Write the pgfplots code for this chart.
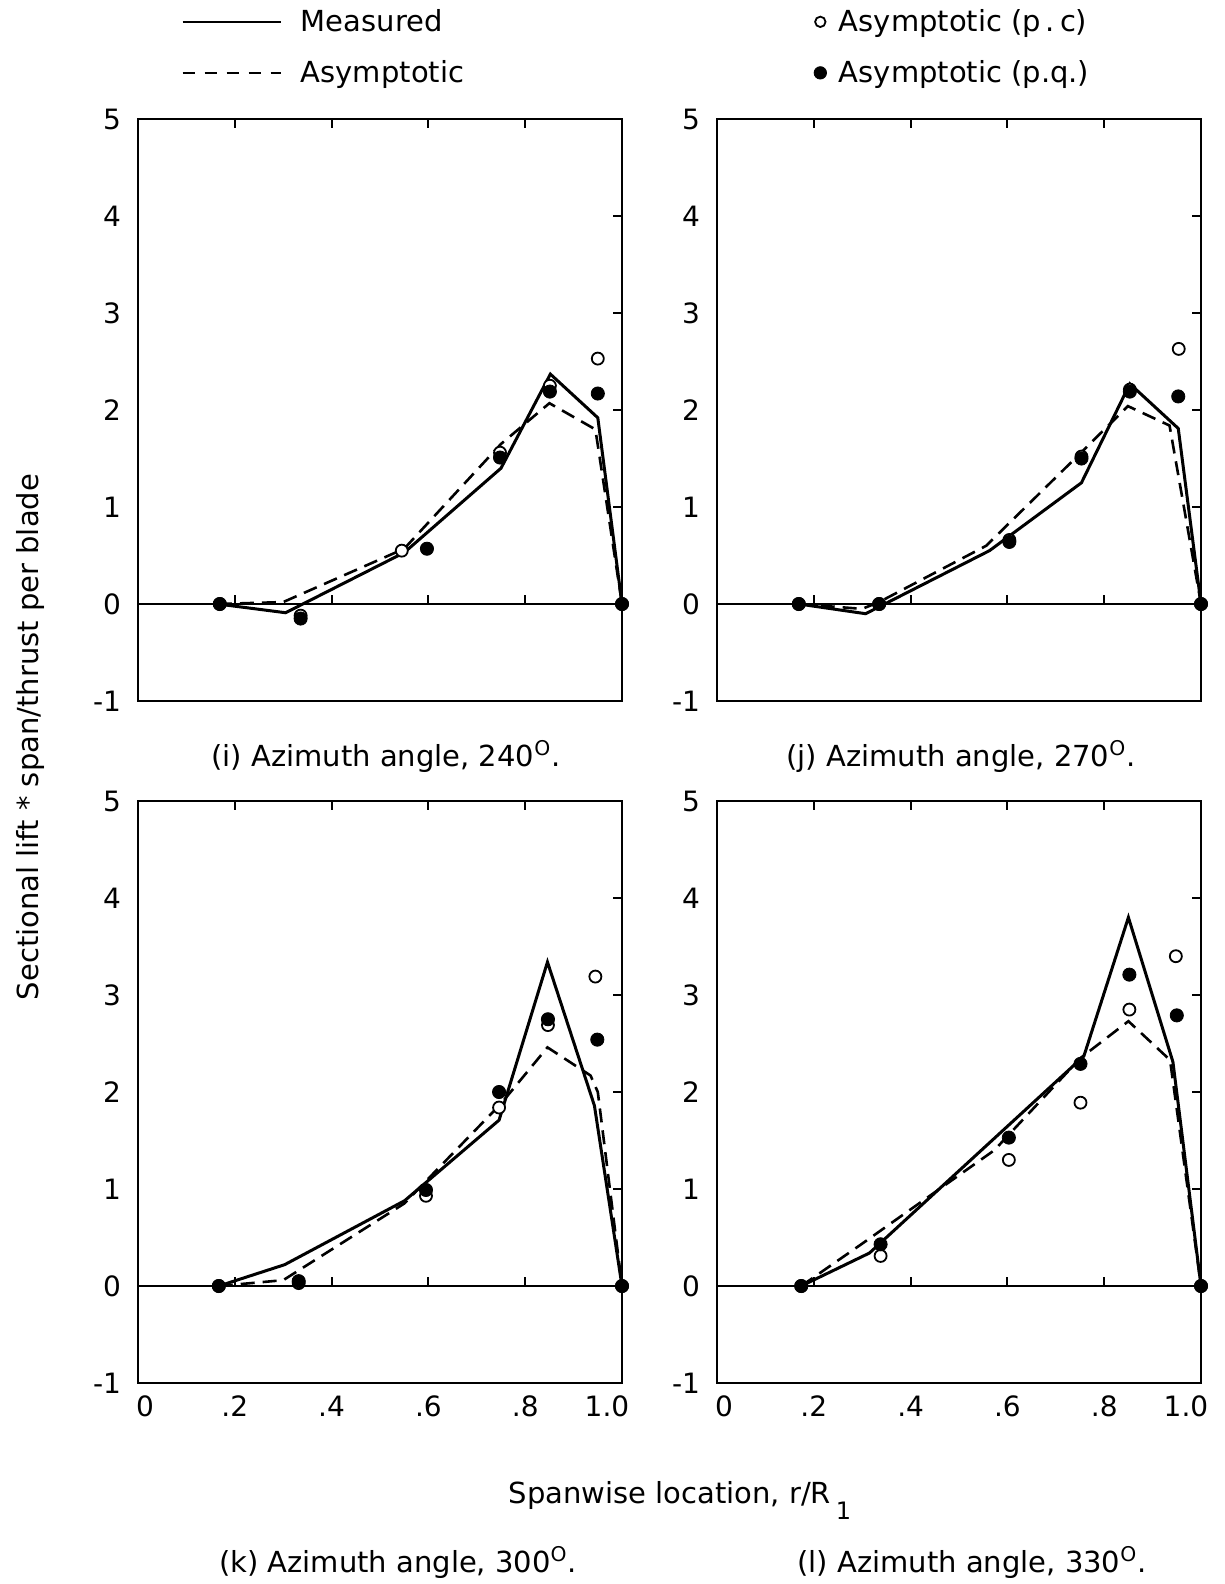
\documentclass[border=0pt]{standalone}
\usepackage{pgfplots}
\pgfplotsset{compat=1.18}
\usepackage{fontspec}
\setmainfont{DejaVu Sans}
\newcommand{\txt}{\fontsize{14.5bp}{17bp}\selectfont}
\newcommand{\tck}{\fontsize{14bp}{16bp}\selectfont}
\pgfplotsset{
  panel/.style={
    scale only axis, width=242bp, height=291bp,
    xmin=0, xmax=1, ymin=-1, ymax=5,
    xtick={0,0.2,0.4,0.6,0.8,1}, ytick={-1,0,1,2,3,4,5},
    xtick pos=right, xticklabel pos=left,
    ytick pos=right, yticklabel pos=left,
    tick align=inside, major tick length=4.5bp,
    axis line style={line width=1bp},
    every tick/.style={black, line width=1bp},
    /pgf/number format/assume math mode=true,
    tick label style={font=\tck},
    yticklabel style={xshift=-5bp},
    xticklabel style={yshift=-3bp},
    clip=false,
  },
  meas/.style={black, line width=1.5bp, no marks, forget plot},
  asym/.style={black, line width=1.3bp, dash pattern=on 7bp off 4bp, no marks, forget plot},
  pc/.style={only marks, mark=*, mark size=3bp, mark options={fill=white, draw=black, line width=0.9bp}, forget plot},
  pq/.style={only marks, mark=*, mark size=3.3bp, mark options={fill=black, draw=black}, forget plot},
}
\newcommand{\zeroline}{%
  \draw[line width=1bp] (axis cs:0,0) -- (axis cs:1,0);
  \pgfplotsinvokeforeach{0.2,0.4,0.6,0.8}{\draw[line width=1bp] (axis cs:##1,0) -- ([yshift=4.5bp]axis cs:##1,0);}
}
\begin{document}
\begin{tikzpicture}[font=\txt]
\path[use as bounding box] (0,0) rectangle (612.5bp,-792bp);

% (i) 240
\begin{axis}[panel, at={(69bp,-59.5bp)}, anchor=north west, xticklabels={,,,,,},
  legend style={at={(0.089,1.196)}, anchor=north west, draw=none, fill=none, inner sep=0pt,
    row sep=9bp, font=\txt, nodes={inner sep=2bp}},
  legend cell align=left]
\addlegendimage{legend image code/.code={\draw[black, line width=1.2bp] (0bp,0bp) -- (49bp,0bp);}}
\addlegendentry{\hspace{7.5bp}Measured}
\addlegendimage{legend image code/.code={\draw[black, line width=1.2bp, dash pattern=on 6bp off 5bp] (0bp,0bp) -- (49bp,0bp);}}
\addlegendentry{\hspace{7.5bp}Asymptotic}
\zeroline
\addplot[meas] coordinates {(0.165,0) (0.305,-0.09) (0.55,0.53) (0.75,1.40) (0.852,2.37) (0.95,1.92) (1.0,0)};
\addplot[asym] coordinates {(0.165,0) (0.30,0.02) (0.55,0.57) (0.75,1.65) (0.85,2.07) (0.945,1.80) (1.0,0)};
\addplot[pc] coordinates {(0.169,0) (0.336,-0.12) (0.545,0.55) (0.748,1.56) (0.851,2.25) (0.950,2.53) (1.0,0)};
\addplot[pq] coordinates {(0.169,0) (0.336,-0.15) (0.597,0.57) (0.748,1.51) (0.851,2.19) (0.950,2.17) (1.0,0)};
\end{axis}

% (j) 270
\begin{axis}[panel, at={(358.5bp,-59.5bp)}, anchor=north west, xticklabels={,,,,,}, yticklabel={},
  legend style={at={(0.199,1.196)}, anchor=north west, draw=none, fill=none, inner sep=0pt,
    row sep=9bp, font=\txt, nodes={inner sep=2bp}},
  legend cell align=left]
\addlegendimage{legend image code/.code={\draw[black, line width=0.9bp, fill=white] (3bp,0bp) circle[radius=2.6bp];}}
\addlegendentry{\hspace{4bp}Asymptotic (p\,.\,c)}
\addlegendimage{legend image code/.code={\fill[black] (3bp,0bp) circle[radius=3.1bp];}}
\addlegendentry{\hspace{4bp}Asymptotic (p.q.)}
\zeroline
\addplot[meas] coordinates {(0.169,0) (0.307,-0.10) (0.563,0.55) (0.753,1.25) (0.853,2.27) (0.953,1.81) (1.0,0)};
\addplot[asym] coordinates {(0.169,0) (0.30,-0.05) (0.335,0.02) (0.556,0.60) (0.75,1.55) (0.849,2.04) (0.935,1.84) (1.0,0)};
\addplot[pc] coordinates {(0.169,0) (0.335,0.0) (0.604,0.66) (0.753,1.52) (0.853,2.21) (0.954,2.63) (1.0,0)};
\addplot[pq] coordinates {(0.169,0) (0.335,0) (0.604,0.64) (0.753,1.50) (0.853,2.19) (0.953,2.14) (1.0,0)};
\end{axis}

% (k) 300
\begin{axis}[panel, at={(69bp,-400.5bp)}, anchor=north west,
  xticklabels={\hspace*{7bp}0,.2,.4,.6,.8,1.0\hspace*{15bp}}]
\zeroline
\addplot[meas] coordinates {(0.167,0) (0.303,0.22) (0.551,0.88) (0.746,1.71) (0.846,3.34) (0.943,1.86) (1.0,0)};
\addplot[asym] coordinates {(0.167,0) (0.30,0.06) (0.55,0.85) (0.75,1.88) (0.846,2.46) (0.935,2.17) (0.95,2.0) (1.0,0)};
\addplot[pc] coordinates {(0.167,0) (0.332,0.03) (0.595,0.93) (0.746,1.84) (0.847,2.69) (0.945,3.19) (1.0,0)};
\addplot[pq] coordinates {(0.167,0) (0.332,0.05) (0.595,0.99) (0.746,2.00) (0.847,2.75) (0.949,2.54) (1.0,0)};
\end{axis}

% (l) 330
\begin{axis}[panel, at={(358.5bp,-400.5bp)}, anchor=north west, yticklabel={},
  xticklabels={\hspace*{7bp}0,.2,.4,.6,.8,1.0\hspace*{15bp}}]
\zeroline
\addplot[meas] coordinates {(0.174,0) (0.315,0.34) (0.40,0.73) (0.758,2.37) (0.850,3.80) (0.942,2.31) (1.0,0)};
\addplot[asym] coordinates {(0.174,0) (0.298,0.43) (0.573,1.40) (0.751,2.35) (0.850,2.73) (0.936,2.33) (1.0,0)};
\addplot[pc] coordinates {(0.174,0) (0.338,0.31) (0.603,1.30) (0.751,1.89) (0.852,2.85) (0.948,3.40) (1.0,0)};
\addplot[pq] coordinates {(0.174,0) (0.338,0.43) (0.603,1.53) (0.751,2.29) (0.852,3.21) (0.950,2.79) (1.0,0)};
\end{axis}

% captions and labels
\node[anchor=base] at (193bp,-383bp) {(i) Azimuth angle, 240\textsuperscript{O}.};
\node[anchor=base] at (480.5bp,-383bp) {(j) Azimuth angle, 270\textsuperscript{O}.};
\node[anchor=base] at (199bp,-786bp) {(k) Azimuth angle, 300\textsuperscript{O}.};
\node[anchor=base] at (486bp,-786bp) {(l) Azimuth angle, 330\textsuperscript{O}.};
\node[anchor=base] at (340bp,-751.5bp) {Spanwise location, r/R\,\raisebox{-8bp}{\fontsize{12bp}{12bp}\selectfont 1}};
\node[rotate=90] at (15bp,-368.5bp) {Sectional lift * span/thrust per blade};
\end{tikzpicture}
\end{document}
